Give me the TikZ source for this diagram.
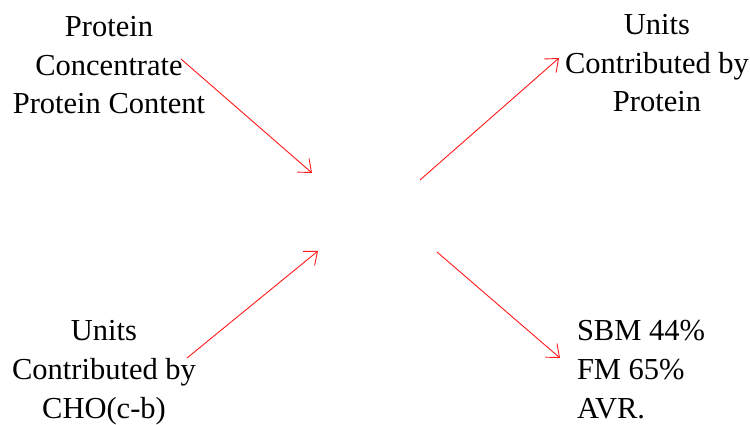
\documentclass[tikz,border=0pt]{standalone}
\usepackage{fontspec}
\setmainfont{Liberation Serif}
\usetikzlibrary{arrows.meta}
\tikzset{
  lbl/.style={font=\fontsize{30.5pt}{38.8pt}\selectfont, inner sep=0pt, outer sep=0pt},
  redarrow/.style={draw=red!90!white, line width=0.9pt, -{Straight Barb[length=11pt,width=18pt,line width=0.9pt]}}
}
\begin{document}
\begin{tikzpicture}[x=1pt,y=-1pt]
\useasboundingbox[fill=white] (0,0) rectangle (750,425);
% base anchor of a multi-line node = baseline of its last line
\node[lbl, align=center, anchor=base] (pc) at (109,114) {Protein\\Concentrate\\Protein Content};
\node[lbl, align=center, anchor=base] (ucp) at (657,112) {Units\\Contributed by\\Protein};
\node[lbl, align=center, anchor=base] (uccho) at (104,418) {Units\\Contributed by\\CHO(c-b)};
\node[lbl, align=left, anchor=base west] (avr) at (577,418) {SBM 44\%\\FM 65\%\\AVR.};
\coordinate (a1s) at (181,59);
\coordinate (a1e) at (312,173);
\coordinate (a2s) at (420,180);
\coordinate (a2e) at (559,58);
\coordinate (a3s) at (187,358);
\coordinate (a3e) at (318,251);
\coordinate (a4s) at (437,252);
\coordinate (a4e) at (560,358);
\draw[redarrow] (a1s) -- (a1e);
\draw[redarrow] (a2s) -- (a2e);
\draw[redarrow] (a3s) -- (a3e);
\draw[redarrow] (a4s) -- (a4e);
\end{tikzpicture}
\end{document}
